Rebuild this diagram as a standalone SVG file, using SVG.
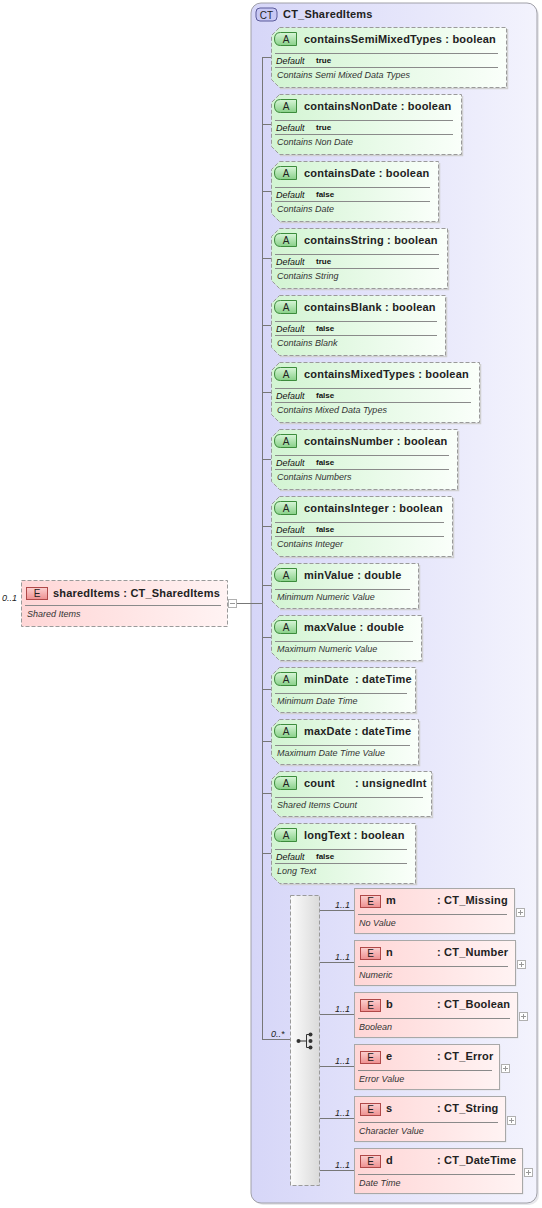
<svg xmlns="http://www.w3.org/2000/svg" width="542" height="1208" viewBox="0 0 542 1208">
<defs>
<linearGradient id="gCT" x1="0" y1="0" x2="1" y2="0"><stop offset="0" stop-color="#d6d6f8"/><stop offset="1" stop-color="#f3f3fd"/></linearGradient>
<linearGradient id="gAttr" x1="0" y1="0" x2="1" y2="0"><stop offset="0" stop-color="#d2f4d2"/><stop offset="1" stop-color="#fafffa"/></linearGradient>
<linearGradient id="gEl" x1="0" y1="0" x2="1" y2="0"><stop offset="0" stop-color="#ffd6d6"/><stop offset="1" stop-color="#fff3f3"/></linearGradient>
<linearGradient id="gCh" x1="0" y1="0" x2="1" y2="0"><stop offset="0" stop-color="#fbfbfb"/><stop offset="1" stop-color="#dadada"/></linearGradient>
<linearGradient id="gA" x1="0" y1="0" x2="0" y2="1"><stop offset="0" stop-color="#d8f6d8"/><stop offset="1" stop-color="#88d088"/></linearGradient>
<linearGradient id="gE" x1="0" y1="0" x2="0" y2="1"><stop offset="0" stop-color="#fcd0d0"/><stop offset="1" stop-color="#ee9090"/></linearGradient>
</defs>
<style>
text{font-family:"Liberation Sans",Arial,sans-serif;fill:#222}
.nm{font-size:11px;font-weight:bold;letter-spacing:0.2px}
.doc{font-size:9px;font-style:italic;fill:#333}
.dl{font-size:9px;font-style:italic;fill:#111}
.dv{font-size:8px;font-weight:bold;fill:#111}
.mult{font-size:9px;font-style:italic;fill:#222}
.badge{font-size:10px;fill:#222}
.attr{fill:url(#gAttr);stroke:#9a9a9a;stroke-dasharray:4 2}
.sh{fill:none;stroke:#d0d0d0;stroke-width:1.5}
.el{fill:url(#gEl);stroke:#a8a8a8}
.sep{stroke:#8a8a8a;stroke-width:1}
.ab{fill:url(#gA);stroke:#3c8c3c}
.eb{fill:url(#gE);stroke:#b04848}
.pm{fill:#fff;stroke:#b0b0b0}
.pmL{stroke:#999}
.con{stroke:#777;fill:none}
</style>

<g id="ct_sharedItems">
<rect x="253" y="5" width="286" height="1200" rx="10" fill="#cfcfd8" opacity="0.5"/>
<rect x="251" y="3" width="286" height="1200" rx="10" fill="url(#gCT)" stroke="#a0a0a8"/>
<rect x="256" y="8" width="21" height="13" rx="4" fill="#c8c8f4" stroke="#5a5a9a"/>
<text class="badge" x="266.5" y="18.5" text-anchor="middle">CT</text>
<text class="nm" x="283" y="18">CT_SharedItems</text>
</g>

<g id="connectors">
<line class="con" x1="237" y1="603.5" x2="262" y2="603.5"/>
<line class="con" x1="262.5" y1="57" x2="262.5" y2="1039"/>
<line class="con" x1="262" y1="57.5" x2="271" y2="57.5"/>
<line class="con" x1="262" y1="124.5" x2="271" y2="124.5"/>
<line class="con" x1="262" y1="191.5" x2="271" y2="191.5"/>
<line class="con" x1="262" y1="258.5" x2="271" y2="258.5"/>
<line class="con" x1="262" y1="325.5" x2="271" y2="325.5"/>
<line class="con" x1="262" y1="392.5" x2="271" y2="392.5"/>
<line class="con" x1="262" y1="459.5" x2="271" y2="459.5"/>
<line class="con" x1="262" y1="526.5" x2="271" y2="526.5"/>
<line class="con" x1="262" y1="585.5" x2="271" y2="585.5"/>
<line class="con" x1="262" y1="637.5" x2="271" y2="637.5"/>
<line class="con" x1="262" y1="689.5" x2="271" y2="689.5"/>
<line class="con" x1="262" y1="741.5" x2="271" y2="741.5"/>
<line class="con" x1="262" y1="793.5" x2="271" y2="793.5"/>
<line class="con" x1="262" y1="853.5" x2="271" y2="853.5"/>
<line class="con" x1="262" y1="1039.5" x2="290" y2="1039.5"/>
<text class="mult" x="271" y="1037">0..*</text>
<line class="con" x1="320" y1="910.5" x2="354" y2="910.5"/>
<line class="con" x1="320" y1="962.5" x2="354" y2="962.5"/>
<line class="con" x1="320" y1="1014.5" x2="354" y2="1014.5"/>
<line class="con" x1="320" y1="1066.5" x2="354" y2="1066.5"/>
<line class="con" x1="320" y1="1118.5" x2="354" y2="1118.5"/>
<line class="con" x1="320" y1="1170.5" x2="354" y2="1170.5"/>
<text class="mult" x="335" y="908">1..1</text>
<text class="mult" x="335" y="960">1..1</text>
<text class="mult" x="335" y="1012">1..1</text>
<text class="mult" x="335" y="1064">1..1</text>
<text class="mult" x="335" y="1116">1..1</text>
<text class="mult" x="335" y="1168">1..1</text>
</g>

<g id="sharedItems">
<text class="mult" x="2" y="601">0..1</text>
<rect x="21.5" y="580.5" width="206" height="46" fill="url(#gEl)" stroke="#9a9a9a" stroke-dasharray="4 2"/>
<rect x="26.5" y="587.5" width="21" height="12" class="eb"/>
<text class="badge" x="37" y="597" text-anchor="middle">E</text>
<text class="nm" x="53" y="597">sharedItems : CT_SharedItems</text>
<line class="sep" x1="25" y1="605.5" x2="221" y2="605.5"/>
<text class="doc" x="27" y="617">Shared Items</text>
<rect x="228.5" y="599.5" width="8" height="8" class="pm"/>
<line class="pmL" x1="230" y1="603.5" x2="235" y2="603.5"/>
</g>

<g id="attr_containsSemiMixedTypes">
<path class="sh" d="M507.5 29V88.5H280"/>
<path class="attr" d="M279.5 27.5H506.5V87.5H279.5L271.5 79.5V35.5Z"/>
<path class="ab" d="M280.5 32.5H296.5V45.5H280.5Q274.5 45.5 274.5 39Q274.5 32.5 280.5 32.5Z"/>
<text class="badge" x="286" y="43" text-anchor="middle">A</text>
<text class="nm" x="304" y="43">containsSemiMixedTypes : boolean</text>
<line class="sep" x1="275" y1="53.5" x2="498" y2="53.5"/>
<text class="dl" x="276" y="64">Default</text><text class="dv" x="316" y="63">true</text>
<line class="sep" x1="275" y1="67.5" x2="498" y2="67.5"/>
<text class="doc" x="277" y="78">Contains Semi Mixed Data Types</text>
</g>

<g id="attr_containsNonDate">
<path class="sh" d="M462.5 96V155.5H280"/>
<path class="attr" d="M279.5 94.5H461.5V154.5H279.5L271.5 146.5V102.5Z"/>
<path class="ab" d="M280.5 99.5H296.5V112.5H280.5Q274.5 112.5 274.5 106Q274.5 99.5 280.5 99.5Z"/>
<text class="badge" x="286" y="110" text-anchor="middle">A</text>
<text class="nm" x="304" y="110">containsNonDate : boolean</text>
<line class="sep" x1="275" y1="120.5" x2="453" y2="120.5"/>
<text class="dl" x="276" y="131">Default</text><text class="dv" x="316" y="130">true</text>
<line class="sep" x1="275" y1="134.5" x2="453" y2="134.5"/>
<text class="doc" x="277" y="145">Contains Non Date</text>
</g>

<g id="attr_containsDate">
<path class="sh" d="M439.5 163V222.5H280"/>
<path class="attr" d="M279.5 161.5H438.5V221.5H279.5L271.5 213.5V169.5Z"/>
<path class="ab" d="M280.5 166.5H296.5V179.5H280.5Q274.5 179.5 274.5 173Q274.5 166.5 280.5 166.5Z"/>
<text class="badge" x="286" y="177" text-anchor="middle">A</text>
<text class="nm" x="304" y="177">containsDate : boolean</text>
<line class="sep" x1="275" y1="187.5" x2="430" y2="187.5"/>
<text class="dl" x="276" y="198">Default</text><text class="dv" x="316" y="197">false</text>
<line class="sep" x1="275" y1="201.5" x2="430" y2="201.5"/>
<text class="doc" x="277" y="212">Contains Date</text>
</g>

<g id="attr_containsString">
<path class="sh" d="M448.5 230V289.5H280"/>
<path class="attr" d="M279.5 228.5H447.5V288.5H279.5L271.5 280.5V236.5Z"/>
<path class="ab" d="M280.5 233.5H296.5V246.5H280.5Q274.5 246.5 274.5 240Q274.5 233.5 280.5 233.5Z"/>
<text class="badge" x="286" y="244" text-anchor="middle">A</text>
<text class="nm" x="304" y="244">containsString : boolean</text>
<line class="sep" x1="275" y1="254.5" x2="439" y2="254.5"/>
<text class="dl" x="276" y="265">Default</text><text class="dv" x="316" y="264">true</text>
<line class="sep" x1="275" y1="268.5" x2="439" y2="268.5"/>
<text class="doc" x="277" y="279">Contains String</text>
</g>

<g id="attr_containsBlank">
<path class="sh" d="M446.5 297V356.5H280"/>
<path class="attr" d="M279.5 295.5H445.5V355.5H279.5L271.5 347.5V303.5Z"/>
<path class="ab" d="M280.5 300.5H296.5V313.5H280.5Q274.5 313.5 274.5 307Q274.5 300.5 280.5 300.5Z"/>
<text class="badge" x="286" y="311" text-anchor="middle">A</text>
<text class="nm" x="304" y="311">containsBlank : boolean</text>
<line class="sep" x1="275" y1="321.5" x2="437" y2="321.5"/>
<text class="dl" x="276" y="332">Default</text><text class="dv" x="316" y="331">false</text>
<line class="sep" x1="275" y1="335.5" x2="437" y2="335.5"/>
<text class="doc" x="277" y="346">Contains Blank</text>
</g>

<g id="attr_containsMixedTypes">
<path class="sh" d="M480.5 364V423.5H280"/>
<path class="attr" d="M279.5 362.5H479.5V422.5H279.5L271.5 414.5V370.5Z"/>
<path class="ab" d="M280.5 367.5H296.5V380.5H280.5Q274.5 380.5 274.5 374Q274.5 367.5 280.5 367.5Z"/>
<text class="badge" x="286" y="378" text-anchor="middle">A</text>
<text class="nm" x="304" y="378">containsMixedTypes : boolean</text>
<line class="sep" x1="275" y1="388.5" x2="471" y2="388.5"/>
<text class="dl" x="276" y="399">Default</text><text class="dv" x="316" y="398">false</text>
<line class="sep" x1="275" y1="402.5" x2="471" y2="402.5"/>
<text class="doc" x="277" y="413">Contains Mixed Data Types</text>
</g>

<g id="attr_containsNumber">
<path class="sh" d="M458.5 431V490.5H280"/>
<path class="attr" d="M279.5 429.5H457.5V489.5H279.5L271.5 481.5V437.5Z"/>
<path class="ab" d="M280.5 434.5H296.5V447.5H280.5Q274.5 447.5 274.5 441Q274.5 434.5 280.5 434.5Z"/>
<text class="badge" x="286" y="445" text-anchor="middle">A</text>
<text class="nm" x="304" y="445">containsNumber : boolean</text>
<line class="sep" x1="275" y1="455.5" x2="449" y2="455.5"/>
<text class="dl" x="276" y="466">Default</text><text class="dv" x="316" y="465">false</text>
<line class="sep" x1="275" y1="469.5" x2="449" y2="469.5"/>
<text class="doc" x="277" y="480">Contains Numbers</text>
</g>

<g id="attr_containsInteger">
<path class="sh" d="M453.5 498V557.5H280"/>
<path class="attr" d="M279.5 496.5H452.5V556.5H279.5L271.5 548.5V504.5Z"/>
<path class="ab" d="M280.5 501.5H296.5V514.5H280.5Q274.5 514.5 274.5 508Q274.5 501.5 280.5 501.5Z"/>
<text class="badge" x="286" y="512" text-anchor="middle">A</text>
<text class="nm" x="304" y="512">containsInteger : boolean</text>
<line class="sep" x1="275" y1="522.5" x2="444" y2="522.5"/>
<text class="dl" x="276" y="533">Default</text><text class="dv" x="316" y="532">false</text>
<line class="sep" x1="275" y1="536.5" x2="444" y2="536.5"/>
<text class="doc" x="277" y="547">Contains Integer</text>
</g>

<g id="attr_minValue">
<path class="sh" d="M419.5 565V609.5H280"/>
<path class="attr" d="M279.5 563.5H418.5V608.5H279.5L271.5 600.5V571.5Z"/>
<path class="ab" d="M280.5 568.5H296.5V581.5H280.5Q274.5 581.5 274.5 575Q274.5 568.5 280.5 568.5Z"/>
<text class="badge" x="286" y="579" text-anchor="middle">A</text>
<text class="nm" x="304" y="579">minValue : double</text>
<line class="sep" x1="275" y1="589.5" x2="410" y2="589.5"/>
<text class="doc" x="277" y="600">Minimum Numeric Value</text>
</g>

<g id="attr_maxValue">
<path class="sh" d="M422.5 617V661.5H280"/>
<path class="attr" d="M279.5 615.5H421.5V660.5H279.5L271.5 652.5V623.5Z"/>
<path class="ab" d="M280.5 620.5H296.5V633.5H280.5Q274.5 633.5 274.5 627Q274.5 620.5 280.5 620.5Z"/>
<text class="badge" x="286" y="631" text-anchor="middle">A</text>
<text class="nm" x="304" y="631">maxValue : double</text>
<line class="sep" x1="275" y1="641.5" x2="413" y2="641.5"/>
<text class="doc" x="277" y="652">Maximum Numeric Value</text>
</g>

<g id="attr_minDate">
<path class="sh" d="M416.5 669V713.5H280"/>
<path class="attr" d="M279.5 667.5H415.5V712.5H279.5L271.5 704.5V675.5Z"/>
<path class="ab" d="M280.5 672.5H296.5V685.5H280.5Q274.5 685.5 274.5 679Q274.5 672.5 280.5 672.5Z"/>
<text class="badge" x="286" y="683" text-anchor="middle">A</text>
<text class="nm" x="304" y="683">minDate</text><text class="nm" x="355" y="683">: dateTime</text>
<line class="sep" x1="275" y1="693.5" x2="407" y2="693.5"/>
<text class="doc" x="277" y="704">Minimum Date Time</text>
</g>

<g id="attr_maxDate">
<path class="sh" d="M419.5 721V765.5H280"/>
<path class="attr" d="M279.5 719.5H418.5V764.5H279.5L271.5 756.5V727.5Z"/>
<path class="ab" d="M280.5 724.5H296.5V737.5H280.5Q274.5 737.5 274.5 731Q274.5 724.5 280.5 724.5Z"/>
<text class="badge" x="286" y="735" text-anchor="middle">A</text>
<text class="nm" x="304" y="735">maxDate : dateTime</text>
<line class="sep" x1="275" y1="745.5" x2="410" y2="745.5"/>
<text class="doc" x="277" y="756">Maximum Date Time Value</text>
</g>

<g id="attr_count">
<path class="sh" d="M432.5 773V817.5H280"/>
<path class="attr" d="M279.5 771.5H431.5V816.5H279.5L271.5 808.5V779.5Z"/>
<path class="ab" d="M280.5 776.5H296.5V789.5H280.5Q274.5 789.5 274.5 783Q274.5 776.5 280.5 776.5Z"/>
<text class="badge" x="286" y="787" text-anchor="middle">A</text>
<text class="nm" x="304" y="787">count</text><text class="nm" x="355" y="787">: unsignedInt</text>
<line class="sep" x1="275" y1="797.5" x2="423" y2="797.5"/>
<text class="doc" x="277" y="808">Shared Items Count</text>
</g>

<g id="attr_longText">
<path class="sh" d="M416.5 825V884.5H280"/>
<path class="attr" d="M279.5 823.5H415.5V883.5H279.5L271.5 875.5V831.5Z"/>
<path class="ab" d="M280.5 828.5H296.5V841.5H280.5Q274.5 841.5 274.5 835Q274.5 828.5 280.5 828.5Z"/>
<text class="badge" x="286" y="839" text-anchor="middle">A</text>
<text class="nm" x="304" y="839">longText : boolean</text>
<line class="sep" x1="275" y1="849.5" x2="407" y2="849.5"/>
<text class="dl" x="276" y="860">Default</text><text class="dv" x="316" y="859">false</text>
<line class="sep" x1="275" y1="863.5" x2="407" y2="863.5"/>
<text class="doc" x="277" y="874">Long Text</text>
</g>

<g id="choice">
<rect x="290.5" y="895.5" width="29" height="290" fill="url(#gCh)" stroke="#9a9a9a" stroke-dasharray="4 2"/>
<circle cx="298.5" cy="1041" r="2" fill="#333"/>
<line x1="298" y1="1041" x2="306" y2="1041" stroke="#333"/>
<path d="M310 1034.5H306.5V1047.5H310" fill="none" stroke="#333"/>
<circle cx="310.5" cy="1034.5" r="2" fill="#333"/>
<circle cx="310.5" cy="1041" r="2" fill="#333"/>
<circle cx="310.5" cy="1047.5" r="2" fill="#333"/>
</g>

<g id="el_m">
<rect x="355.5" y="889.5" width="160" height="45" fill="#d8d8d8" opacity="0.6"/>
<rect x="354.5" y="888.5" width="160" height="45" class="el"/>
<rect x="360.5" y="895.5" width="20" height="12" class="eb"/>
<text class="badge" x="370.5" y="905" text-anchor="middle">E</text>
<text class="nm" x="386" y="904">m</text><text class="nm" x="437" y="904">: CT_Missing</text>
<line class="sep" x1="358" y1="914.5" x2="507" y2="914.5"/>
<text class="doc" x="359" y="926">No Value</text>
<rect x="516.5" y="908.5" width="8" height="8" class="pm"/>
<path class="pmL" d="M518 912.5H523M520.5 910V915"/>
</g>

<g id="el_n">
<rect x="355.5" y="941.5" width="161" height="45" fill="#d8d8d8" opacity="0.6"/>
<rect x="354.5" y="940.5" width="161" height="45" class="el"/>
<rect x="360.5" y="947.5" width="20" height="12" class="eb"/>
<text class="badge" x="370.5" y="957" text-anchor="middle">E</text>
<text class="nm" x="386" y="956">n</text><text class="nm" x="437" y="956">: CT_Number</text>
<line class="sep" x1="358" y1="966.5" x2="508" y2="966.5"/>
<text class="doc" x="359" y="978">Numeric</text>
<rect x="517.5" y="960.5" width="8" height="8" class="pm"/>
<path class="pmL" d="M519 964.5H524M521.5 962V967"/>
</g>

<g id="el_b">
<rect x="355.5" y="993.5" width="163" height="45" fill="#d8d8d8" opacity="0.6"/>
<rect x="354.5" y="992.5" width="163" height="45" class="el"/>
<rect x="360.5" y="999.5" width="20" height="12" class="eb"/>
<text class="badge" x="370.5" y="1009" text-anchor="middle">E</text>
<text class="nm" x="386" y="1008">b</text><text class="nm" x="437" y="1008">: CT_Boolean</text>
<line class="sep" x1="358" y1="1018.5" x2="510" y2="1018.5"/>
<text class="doc" x="359" y="1030">Boolean</text>
<rect x="519.5" y="1012.5" width="8" height="8" class="pm"/>
<path class="pmL" d="M521 1016.5H526M523.5 1014V1019"/>
</g>

<g id="el_e">
<rect x="355.5" y="1045.5" width="145" height="45" fill="#d8d8d8" opacity="0.6"/>
<rect x="354.5" y="1044.5" width="145" height="45" class="el"/>
<rect x="360.5" y="1051.5" width="20" height="12" class="eb"/>
<text class="badge" x="370.5" y="1061" text-anchor="middle">E</text>
<text class="nm" x="386" y="1060">e</text><text class="nm" x="437" y="1060">: CT_Error</text>
<line class="sep" x1="358" y1="1070.5" x2="492" y2="1070.5"/>
<text class="doc" x="359" y="1082">Error Value</text>
<rect x="501.5" y="1064.5" width="8" height="8" class="pm"/>
<path class="pmL" d="M503 1068.5H508M505.5 1066V1071"/>
</g>

<g id="el_s">
<rect x="355.5" y="1097.5" width="151" height="45" fill="#d8d8d8" opacity="0.6"/>
<rect x="354.5" y="1096.5" width="151" height="45" class="el"/>
<rect x="360.5" y="1103.5" width="20" height="12" class="eb"/>
<text class="badge" x="370.5" y="1113" text-anchor="middle">E</text>
<text class="nm" x="386" y="1112">s</text><text class="nm" x="437" y="1112">: CT_String</text>
<line class="sep" x1="358" y1="1122.5" x2="498" y2="1122.5"/>
<text class="doc" x="359" y="1134">Character Value</text>
<rect x="507.5" y="1116.5" width="8" height="8" class="pm"/>
<path class="pmL" d="M509 1120.5H514M511.5 1118V1123"/>
</g>

<g id="el_d">
<rect x="355.5" y="1149.5" width="168" height="45" fill="#d8d8d8" opacity="0.6"/>
<rect x="354.5" y="1148.5" width="168" height="45" class="el"/>
<rect x="360.5" y="1155.5" width="20" height="12" class="eb"/>
<text class="badge" x="370.5" y="1165" text-anchor="middle">E</text>
<text class="nm" x="386" y="1164">d</text><text class="nm" x="437" y="1164">: CT_DateTime</text>
<line class="sep" x1="358" y1="1174.5" x2="515" y2="1174.5"/>
<text class="doc" x="359" y="1186">Date Time</text>
<rect x="524.5" y="1168.5" width="8" height="8" class="pm"/>
<path class="pmL" d="M526 1172.5H531M528.5 1170V1175"/>
</g>
</svg>
